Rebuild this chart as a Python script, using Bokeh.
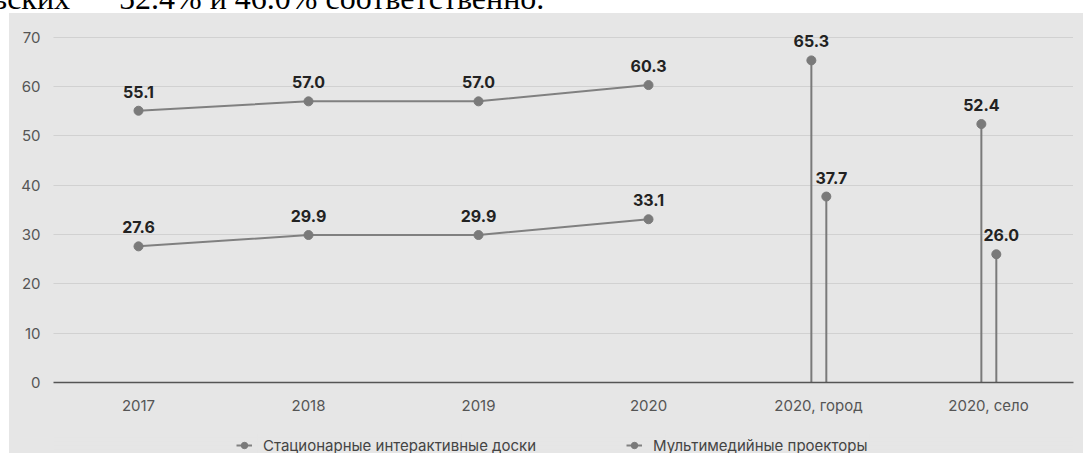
from bokeh.plotting import figure
from bokeh.models import ColumnDataSource, Range1d, FactorRange, Legend, LegendItem, Div
from bokeh.transform import dodge
from bokeh.layouts import column
from bokeh.core.properties import value
from bokeh.embed import file_html
from bokeh.resources import INLINE

# ---- data ----
categories = ["2017", "2018", "2019", "2020", "2020, город", "2020, село"]
boards = [55.1, 57.0, 57.0, 60.3, 65.3, 52.4]
projectors = [27.6, 29.9, 29.9, 33.1, 37.7, 26.0]
series_names = ["Стационарные интерактивные доски", "Мультимедийные проекторы"]
trend_count = 4
y_ticks = [0, 10, 20, 30, 40, 50, 60, 70]
top_text_left = "сельских"
top_text_right = "52.4% и 46.0% соответственно."

# ---- style ----
BG = "#e6e6e6"
MARK = "#7a7a7a"
LINE = "#808080"
FONT = "Inter"

p = figure(
    x_range=FactorRange(factors=categories, range_padding=0),
    y_range=Range1d(0, 74),
    width=1074, height=420, margin=(0, 0, 0, 9),
    output_backend="svg", toolbar_location=None,
    background_fill_color=BG, border_fill_color=BG,
    min_border_left=44, min_border_right=10, min_border_top=4, min_border_bottom=51,
    outline_line_color=None,
    styles={"background-color": BG},
)

p.xaxis.axis_line_color = "#555555"
p.xaxis.axis_line_width = 1.5
p.xaxis.major_tick_line_color = None
p.xaxis.minor_tick_line_color = None
p.xaxis.major_tick_out = 0
p.xaxis.major_label_standoff = 13
p.xaxis.major_label_text_font = FONT
p.xaxis.major_label_text_font_size = "15px"
p.xaxis.major_label_text_color = "#555555"

p.yaxis.axis_line_color = None
p.yaxis.major_tick_line_color = None
p.yaxis.minor_tick_line_color = None
p.yaxis.major_tick_out = 0
p.yaxis.ticker = y_ticks
p.yaxis.major_label_standoff = 13
p.yaxis.major_label_text_font = FONT
p.yaxis.major_label_text_font_size = "15px"
p.yaxis.major_label_text_color = "#555555"

p.xgrid.grid_line_color = None
p.ygrid.grid_line_color = "#bdbdbd"
p.ygrid.grid_line_dash = "1 1"
p.ygrid.grid_line_width = 1

fmt = lambda vals: ["%.1f" % v for v in vals]

# trend part (lines)
trend = ColumnDataSource(dict(
    x=categories[:trend_count],
    b=boards[:trend_count], pr=projectors[:trend_count],
    bl=fmt(boards[:trend_count]), prl=fmt(projectors[:trend_count]),
))
for col, lab in (("b", "bl"), ("pr", "prl")):
    p.line("x", col, source=trend, line_color=LINE, line_width=2)
    p.scatter("x", col, source=trend, size=9, fill_color=MARK, line_color=MARK)
    p.text("x", col, text=lab, source=trend, y_offset=-19,
           text_font=value(FONT), text_font_style="bold", text_font_size="16px",
           text_color="#222222", text_align="center", text_baseline="middle")

# stems part (город / село)
stem = ColumnDataSource(dict(
    x=categories[trend_count:],
    b=boards[trend_count:], pr=projectors[trend_count:],
    bl=fmt(boards[trend_count:]), prl=fmt(projectors[trend_count:]),
))
for col, lab, off, xo in (("b", "bl", -0.042, 0), ("pr", "prl", 0.046, 5)):
    xd = dodge("x", off, range=p.x_range)
    p.segment(x0=xd, y0=0, x1=xd, y1=col, source=stem, line_color=MARK, line_width=2)
    p.scatter(x=xd, y=col, source=stem, size=9, fill_color=MARK, line_color=MARK)
    p.text(x=xd, y=col, text=lab, source=stem, y_offset=-19, x_offset=xo,
           text_font=value(FONT), text_font_style="bold", text_font_size="16px",
           text_color="#222222", text_align="center", text_baseline="middle")

# ---- legend strip (separate small figure under the chart) ----
lg = figure(
    width=1074, height=20, margin=(0, 0, 0, 9),
    x_range=Range1d(0, 1), y_range=Range1d(0, 1),
    output_backend="svg", toolbar_location=None,
    x_axis_location=None, y_axis_location=None,
    background_fill_alpha=0, border_fill_color=BG,
    min_border=0, outline_line_color=None,
    styles={"background-color": BG},
)
items = []
for name in series_names:
    # proxy glyphs placed outside the visible range, used only for the legend icons
    lr = lg.line(x=[5, 6], y=[5, 5], line_color=LINE, line_width=2)
    sr = lg.scatter(x=[5.5], y=[5], size=8, fill_color=MARK, line_color=MARK)
    items.append(LegendItem(label=name, renderers=[lr, sr]))
legend = Legend(
    items=items, orientation="horizontal", location=(183, -2),
    background_fill_alpha=0, border_line_color=None, padding=0, margin=0,
    spacing=90, glyph_width=16, glyph_height=20, label_height=20, label_standoff=11,
    label_text_font=FONT, label_text_font_size="15px", label_text_color="#444444",
)
lg.add_layout(legend)

# ---- cut-off line of page text above the chart ----
span_style = ("position:absolute;top:-18px;font-family:'Liberation Serif';font-size:32px;"
              "line-height:32px;white-space:nowrap;color:#000;")
div_html = (
    '<div style="position:relative;width:1083px;height:13px;overflow:visible;">'
    f'<span style="{span_style}right:1013px;">{top_text_left}</span>'
    f'<span style="{span_style}left:119px;">{top_text_right}</span>'
    '</div>'
)
top = Div(text=div_html, width=1083, height=13, margin=0, styles={"overflow": "visible"})

layout = column(top, p, lg, spacing=0)
open("out.html", "w").write(file_html(layout, INLINE))
